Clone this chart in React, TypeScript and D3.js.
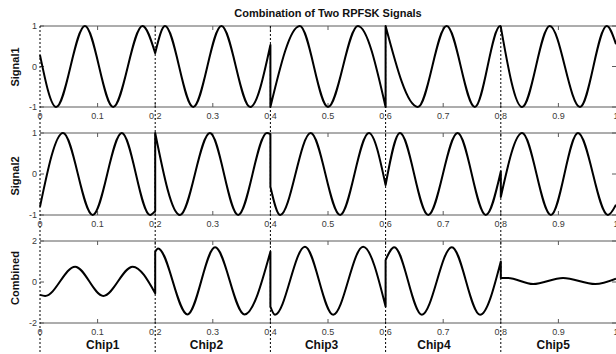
import * as d3 from 'd3'

// chip boundaries and labels
const chipBounds = [0, 0.2, 0.4, 0.6, 0.8]
const chipNames = ['Chip1', 'Chip2', 'Chip3', 'Chip4', 'Chip5']
const chipLabelX = [0.08, 0.26, 0.46, 0.655, 0.862]
const xTicks = [0, 0.1, 0.2, 0.3, 0.4, 0.5, 0.6, 0.7, 0.8, 0.9, 1]

// key points (t, value), one list per chip
const signal1 = [
  [[0, 0.28], [0.028, -1], [0.078, 1], [0.127, -1], [0.178, 1], [0.2, 0.33]],
  [[0.2, 0.33], [0.217, 1], [0.266, -1], [0.315, 1], [0.365, -1], [0.4, 0.53]],
  [[0.4, -1], [0.451, 1], [0.5, -1], [0.552, 1], [0.6, -1]],
  [[0.6, 1], [0.656, -1], [0.706, 1], [0.755, -1], [0.799, 1], [0.8, 0.98]],
  [[0.8, 0.98], [0.837, -1], [0.885, 1], [0.9375, -1], [0.984, 1], [1.0, 0.55]],
]

const signal2 = [
  [[0, -0.8], [0.04, 1], [0.0915, -1], [0.142, 1], [0.191, -1], [0.2, -0.9]],
  [[0.2, 1], [0.243, -1], [0.295, 1], [0.344, -1], [0.394, 1], [0.4, 0.97]],
  [[0.4, -0.31], [0.417, -1], [0.47, 1], [0.521, -1], [0.571, 1], [0.6, -0.27]],
  [[0.6, -0.27], [0.625, 1], [0.674, -1], [0.725, 1], [0.774, -1], [0.8, 0.06]],
  [[0.8, -0.56], [0.837, 1], [0.887, -1], [0.934, 1], [0.986, -1], [1.0, -0.75]],
]

const combined = [
  [[0, -0.63], [0.009, -0.68], [0.061, 0.75], [0.11, -0.68], [0.161, 0.75], [0.2, -0.55]],
  [[0.2, 1.48], [0.205, 1.64], [0.256, -1.58], [0.304, 1.69], [0.355, -1.58], [0.4, 1.48]],
  [[0.4, -1.2], [0.408, -1.6], [0.46, 1.72], [0.509, -1.6], [0.561, 1.72], [0.6, -1.2]],
  [[0.6, 1.07], [0.615, 1.7], [0.663, -1.6], [0.715, 1.7], [0.764, -1.6], [0.8, 1.0]],
  [[0.8, 0.2], [0.812, 0.2], [0.856, -0.1], [0.908, 0.2], [0.964, -0.1], [1.0, 0.16]],
]

const panels = [
  { label: 'Signal1', chips: signal1, domain: [-1, 1], ticks: [-1, 0, 1], top: 26, bottom: 107, labelY: 67 },
  { label: 'Signal2', chips: signal2, domain: [-1, 1], ticks: [-1, 0, 1], top: 133, bottom: 215, labelY: 176 },
  { label: 'Combined', chips: combined, domain: [-2, 2], ticks: [-2, 0, 2], top: 241, bottom: 323, labelY: 278 },
]

const W = 616
const H = 354
const font = '"Liberation Sans", Arial, sans-serif'
const frameColor = '#5a5a5a'
const tickText = '#3a3a3a'

export default function App() {
  const x = d3.scaleLinear().domain([0, 1]).range([40, 616])

  return (
    <svg width={W} height={H} style={{ position: 'absolute', left: 0, top: 0, background: '#fff' }}>
      <text x={328} y={17} textAnchor="middle" fontFamily={font} fontSize={11} fontWeight="bold" fill="#111">
        Combination of Two RPFSK Signals
      </text>

      {panels.map(p => {
        const y = d3.scaleLinear().domain(p.domain).range([p.bottom, p.top])
        const line = d3.line<number[]>()
          .x(d => x(d[0]))
          .y(d => y(d[1]))
          .curve(d3.curveMonotoneX)
        // join chips into one path; jumps become vertical segments
        const path = p.chips.map((c, i) => {
          const s = line(c) || ''
          return i === 0 ? s : 'L' + s.slice(1)
        }).join('')
        return (
          <g key={p.label}>
            <line x1={40} x2={W} y1={p.top} y2={p.top} stroke={frameColor} strokeWidth={1} />
            <line x1={40} x2={W} y1={p.bottom} y2={p.bottom} stroke={frameColor} strokeWidth={1} />
            {xTicks.slice(1, -1).map(t => (
              <g key={t}>
                <line x1={x(t)} x2={x(t)} y1={p.top} y2={p.top + 4} stroke={frameColor} />
                <line x1={x(t)} x2={x(t)} y1={p.bottom} y2={p.bottom - 4} stroke={frameColor} />
              </g>
            ))}
            {xTicks.map(t => (
              <text key={'l' + t} x={x(t)} y={p.bottom + 12} textAnchor="middle" fontFamily={font} fontSize={9} fill={tickText}>
                {d3.format('~g')(t)}
              </text>
            ))}
            {p.ticks.map(v => (
              <g key={'y' + v}>
                <line x1={40} x2={44} y1={y(v)} y2={y(v)} stroke={frameColor} />
                <line x1={W} x2={W - 4} y1={y(v)} y2={y(v)} stroke={frameColor} />
                <text x={37} y={y(v)} dy="0.35em" textAnchor="end" fontFamily={font} fontSize={9} fill={tickText}>
                  {v}
                </text>
              </g>
            ))}
            <text transform={`translate(19,${p.labelY}) rotate(-90)`} textAnchor="middle" fontFamily={font} fontSize={11} fontWeight="bold" fill="#111">
              {p.label}
            </text>
            <path d={path} fill="none" stroke="#000" strokeWidth={2} strokeLinejoin="round" />
          </g>
        )
      })}

      {chipBounds.map(t => (
        <line key={'c' + t} x1={x(t)} x2={x(t)} y1={26} y2={H} stroke="#000" strokeWidth={1} strokeDasharray="2,2" />
      ))}

      {chipNames.map((n, i) => (
        <text key={n} x={x(chipLabelX[i])} y={349} fontFamily={font} fontSize={12} fontWeight="bold" fill="#111">
          {n}
        </text>
      ))}
    </svg>
  )
}
